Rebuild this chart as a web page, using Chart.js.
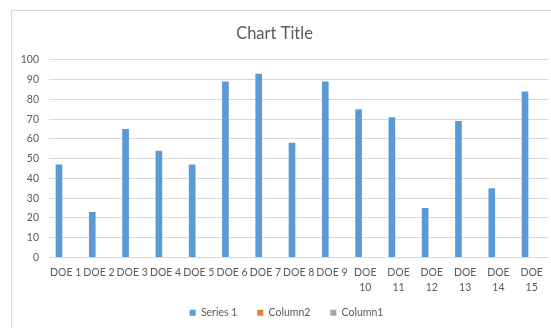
<!DOCTYPE html>
<html>
<head>
<meta charset="utf-8">
<script src="https://cdn.jsdelivr.net/npm/chart.js@4/dist/chart.umd.min.js"></script>
<style>
  html, body { margin: 0; padding: 0; background: #fff; }
  #wrap { position: relative; width: 551px; height: 328px; overflow: hidden; }
  #frame { position: absolute; left: 11px; top: 10px; width: 600px; height: 400px; border: 1px solid #d9d9d9; }
  #grafico { position: absolute; left: 0; top: 0; }
</style>
</head>
<body>
<div id="wrap">
  <div id="frame"></div>
  <canvas id="grafico" width="551" height="328"></canvas>
</div>
<script>
// dados do grafico
const categorias = ['DOE 1', 'DOE 2', 'DOE 3', 'DOE 4', 'DOE 5', 'DOE 6', 'DOE 7', 'DOE 8',
  'DOE 9', 'DOE 10', 'DOE 11', 'DOE 12', 'DOE 13', 'DOE 14', 'DOE 15'];
const series1 = [47, 23, 65, 54, 47, 89, 93, 58, 89, 75, 71, 25, 69, 35, 84];
const column2 = [];
const column1 = [];
const ticksY = [0, 10, 20, 30, 40, 50, 60, 70, 80, 90, 100];

const cinza = '#595959';
const fonte = "Lato, 'Open Sans', sans-serif";

// ajustes finos depois do layout:
// legenda um pouco pra direita e rotulos do eixo x sem corte (segunda linha)
const ajustes = {
  id: 'ajustes',
  afterLayout(chart) {
    chart.legend.left += 12;
    chart.legend.right += 12;
    chart.scales.x.bottom += 16;
  }
};

const ctx = document.getElementById('grafico').getContext('2d');
new Chart(ctx, {
  type: 'bar',
  data: {
    labels: categorias,
    datasets: [
      { label: 'Series 1', data: series1, backgroundColor: '#5b9bd5' },
      { label: 'Column2', data: column2, backgroundColor: '#ed7d31' },
      { label: 'Column1', data: column1, backgroundColor: '#a5a5a5' }
    ]
  },
  options: {
    responsive: false,
    animation: false,
    categoryPercentage: 0.6,
    barPercentage: 1,
    layout: { padding: { left: 0, right: 2, top: 0, bottom: 0 } },
    plugins: {
      title: {
        display: true,
        text: 'Chart Title',
        color: cinza,
        font: { family: fonte, size: 16.5, weight: 'normal' },
        padding: { top: 24, bottom: 16 }
      },
      legend: {
        position: 'bottom',
        labels: {
          boxWidth: 6,
          boxHeight: 6,
          padding: 20,
          color: cinza,
          font: { family: fonte, size: 10.5 }
        }
      },
      tooltip: { enabled: false }
    },
    scales: {
      x: {
        grid: { display: false, drawTicks: false },
        border: { display: true, color: '#d9d9d9' },
        ticks: {
          color: cinza,
          font: { family: fonte, size: 10.5, lineHeight: 1.4 },
          padding: 8,
          maxRotation: 0,
          autoSkip: false,
          callback: function (v, i) {
            const s = this.getLabelForValue(v);
            return i >= 9 ? s.split(' ') : s;
          }
        },
        afterFit: (scale) => { scale.height = 30; }
      },
      y: {
        min: ticksY[0],
        max: ticksY[ticksY.length - 1],
        grid: { color: '#d9d9d9', drawTicks: false },
        border: { display: false },
        afterBuildTicks: (scale) => { scale.ticks = ticksY.map(v => ({ value: v })); },
        ticks: {
          color: cinza,
          font: { family: fonte, size: 10.5 },
          padding: 10
        },
        afterFit: (scale) => { scale.width = 49; }
      }
    }
  },
  plugins: [ajustes]
});
</script>
</body>
</html>
